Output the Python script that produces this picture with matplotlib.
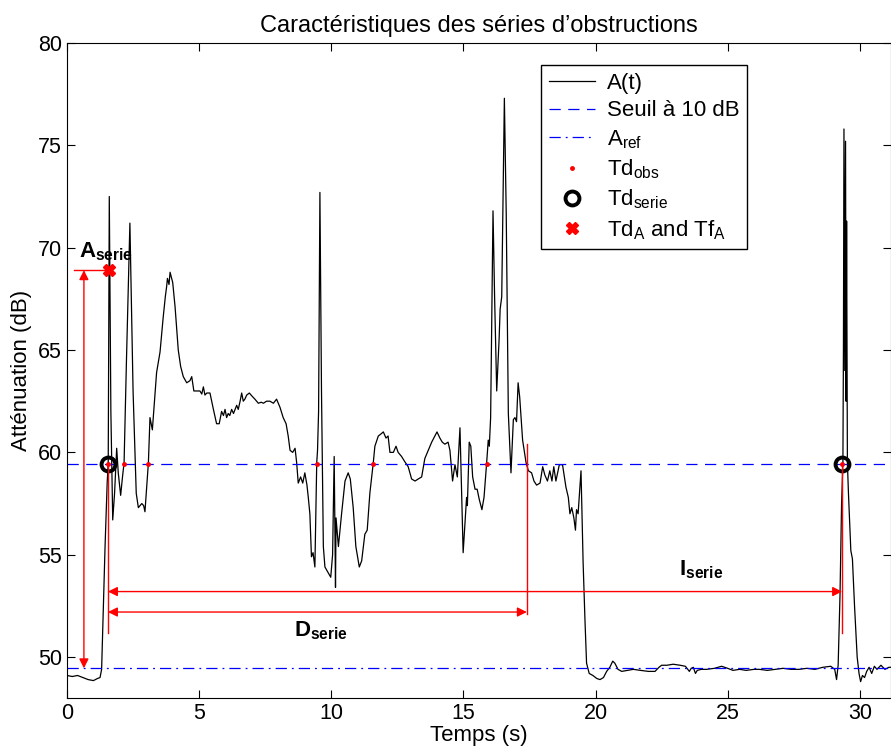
import matplotlib
matplotlib.use("Agg")
import matplotlib.pyplot as plt

plt.rcParams['font.family'] = ['Liberation Sans', 'DejaVu Sans']
plt.rcParams['mathtext.default'] = 'regular'

# Attenuation signal A(t)
t = [0.0, 0.2, 0.4, 0.6, 0.8, 1.0, 1.15, 1.25, 1.31, 1.40, 1.44, 1.52, 1.56, 1.60, 1.66, 1.73, 1.80,
     1.88, 1.94, 2.03, 2.10, 2.16, 2.25, 2.38, 2.50, 2.62, 2.70, 2.83, 2.90, 2.95, 3.08, 3.14, 3.23,
     3.39, 3.52, 3.64, 3.72, 3.77, 3.80, 3.86, 3.90, 4.00, 4.09, 4.21, 4.30, 4.40, 4.53, 4.65, 4.72,
     4.80, 4.92, 5.03, 5.10, 5.16, 5.22, 5.29, 5.41, 5.54, 5.66, 5.76, 5.85, 5.92, 5.98, 6.04, 6.10,
     6.16, 6.23, 6.30, 6.42, 6.48, 6.55, 6.61, 6.67, 6.73, 6.80, 6.90, 7.00, 7.11, 7.24, 7.35, 7.43,
     7.55, 7.68, 7.81, 7.93, 8.06, 8.18, 8.29, 8.37, 8.44, 8.54, 8.63, 8.69, 8.75, 8.84, 8.92, 9.00,
     9.08, 9.13, 9.19, 9.25, 9.31, 9.38, 9.45, 9.48, 9.52, 9.57, 9.63, 9.70, 9.76, 9.89, 9.98, 10.05,
     10.11, 10.14, 10.16, 10.18, 10.27, 10.39, 10.52, 10.64, 10.72, 10.83, 10.93, 11.06, 11.15, 11.27,
     11.36, 11.46, 11.59, 11.65, 11.78, 11.88, 11.97, 12.07, 12.15, 12.22, 12.35, 12.45, 12.53, 12.66,
     12.78, 12.91, 13.04, 13.17, 13.29, 13.42, 13.54, 13.67, 13.80, 13.92, 14.00, 14.11, 14.20, 14.30,
     14.42, 14.49, 14.59, 14.68, 14.77, 14.87, 14.99, 15.12, 15.15, 15.22, 15.28, 15.35, 15.44, 15.52,
     15.60, 15.70, 15.78, 15.88, 15.94, 15.98, 16.03, 16.12, 16.18, 16.26, 16.35, 16.39, 16.45, 16.55,
     16.62, 16.70, 16.80, 16.89, 16.95, 17.01, 17.07, 17.13, 17.24, 17.37, 17.46, 17.58, 17.67, 17.77,
     17.90, 18.00, 18.08, 18.18, 18.27, 18.35, 18.42, 18.50, 18.63, 18.75, 18.88, 18.97, 19.03, 19.10,
     19.18, 19.24, 19.28, 19.34, 19.45, 19.53, 19.60, 19.66, 19.76, 19.90, 20.05, 20.17, 20.30, 20.42,
     20.54, 20.65, 20.73, 20.85, 20.99, 21.2, 21.43, 21.7, 22.0, 22.25, 22.4, 22.5, 22.7, 22.94, 23.2,
     23.4, 23.55, 23.62, 23.7, 23.78, 23.85, 24.0, 24.2, 24.5, 24.77, 25.0, 25.2, 25.45, 25.7, 26.0,
     26.2, 26.5, 26.8, 27.1, 27.4, 27.7, 28.0, 28.3, 28.6, 28.9, 29.05, 29.12, 29.18, 29.25, 29.31,
     29.36, 29.38, 29.40, 29.43, 29.46, 29.48, 29.50, 29.53, 29.57, 29.66, 29.72, 29.80, 29.90, 29.97,
     30.03, 30.10, 30.18, 30.26, 30.35, 30.45, 30.55, 30.65, 30.80, 30.95, 31.1, 31.3]
A = [49.1, 49.05, 49.1, 49.0, 48.9, 48.85, 48.95, 49.0, 49.4, 53.5, 55.4, 58.5, 59.5, 72.5, 62.0, 56.7, 58.0,
     60.2, 59.0, 57.9, 58.8, 59.5, 64.5, 71.2, 63.0, 58.0, 57.3, 57.5, 57.4, 57.1, 59.5, 61.7, 61.1,
     63.9, 64.9, 66.6, 67.6, 68.1, 68.5, 68.2, 68.8, 68.3, 67.1, 65.0, 64.2, 63.7, 63.4, 63.5, 63.7,
     63.0, 63.0, 63.0, 62.85, 63.2, 62.8, 62.9, 62.9, 62.1, 61.4, 61.4, 62.0, 61.8, 62.1, 61.7, 61.9,
     61.8, 62.1, 61.9, 62.3, 62.1, 62.5, 62.9, 62.5, 62.6, 62.8, 62.9, 62.75, 62.6, 62.4, 62.45, 62.4,
     62.5, 62.5, 62.4, 62.6, 62.2, 61.7, 61.4, 60.8, 60.1, 60.0, 60.2, 59.5, 58.5, 58.8, 58.5, 59.0,
     58.4, 57.8, 57.0, 54.9, 55.1, 54.4, 59.5, 60.1, 62.0, 72.7, 63.0, 55.4, 54.4, 54.1, 53.9, 55.0,
     59.8, 56.0, 53.4, 56.8, 55.4, 57.0, 58.6, 59.0, 58.7, 57.3, 55.4, 54.4, 54.7, 56.0,
     56.2, 58.0, 59.5, 60.3, 60.8, 60.9, 61.0, 60.7, 60.8, 60.0, 60.0, 60.3, 60.0, 59.8,
     59.55, 59.3, 58.7, 58.6, 58.7, 58.8, 59.7, 60.1, 60.5, 60.8, 61.0, 60.7, 60.5, 60.4,
     60.5, 60.1, 58.6, 59.4, 58.8, 61.2, 55.1, 57.8, 57.4, 60.5, 60.3, 58.8, 58.2, 58.2,
     57.7, 57.2, 57.8, 59.5, 60.6, 60.3, 61.7, 71.8, 67.6, 63.0, 65.5, 67.0, 67.6, 77.3,
     71.7, 61.9, 59.0, 61.6, 61.7, 61.5, 63.4, 62.7, 60.6, 59.5, 59.1, 59.0, 58.6, 58.4,
     58.5, 59.3, 58.9, 58.6, 59.1, 58.6, 59.3, 58.6, 59.4, 59.4, 58.3, 57.8, 57.0, 57.3,
     56.8, 56.2, 57.2, 57.0, 59.1, 54.6, 51.8, 49.7, 49.2, 49.1, 48.95, 48.9, 49.0, 49.3,
     49.5, 49.8, 49.7, 49.4, 49.3, 49.35, 49.4, 49.35, 49.3, 49.3, 49.5, 49.6, 49.6, 49.65, 49.6,
     49.55, 49.3, 49.45, 49.5, 49.2, 49.35, 49.4, 49.4, 49.45, 49.55, 49.45, 49.35, 49.4, 49.35, 49.4,
     49.4, 49.35, 49.4, 49.45, 49.4, 49.4, 49.45, 49.4, 49.5, 49.55, 49.4, 48.9, 49.6, 53.0, 57.5,
     59.5, 65.0, 75.8, 64.0, 75.2, 62.5, 71.3, 59.5, 58.0, 55.2, 54.8, 52.5, 50.0, 49.2,
     48.8, 49.1, 49.0, 49.3, 49.5, 49.2, 49.55, 49.4, 49.6, 49.4, 49.5, 49.5]

A_ref = 49.45
seuil = A_ref + 10
td_obs = [1.55, 2.16, 3.07, 9.46, 11.58, 15.89, 29.33]
td_serie = [1.55, 29.33]
td_A = [1.6]
A_serie = 68.9
tf_D = 17.40
t_arrow_A = 0.64

fig = plt.figure(figsize=(8.91, 7.53), dpi=100, facecolor='white')
ax = fig.add_axes([67 / 891, 55 / 753, 824 / 891, 655 / 753])

ax.plot(t, A, 'k-', lw=0.9, label='A(t)')
ax.axhline(seuil, color='blue', ls=(0, (9, 6)), lw=0.9, label='Seuil à 10 dB')
ax.axhline(A_ref, color='blue', ls=(0, (9, 4, 1.5, 4)), lw=0.9, label='A$_{ref}$')
ax.plot(td_obs, [seuil] * len(td_obs), 'r.', ms=5, ls='none', label='Td$_{obs}$')
ax.plot(td_serie, [seuil] * len(td_serie), 'o', mfc='none', mec='k', mew=2.8, ms=10, ls='none',
        label='Td$_{serie}$')
ax.plot(td_A, [A_serie], 'X', color='red', ms=8, ls='none', label='Td$_A$ and Tf$_A$')

# annotation arrows
red = dict(arrowstyle='<|-|>', color='red', lw=1.0, shrinkA=0, shrinkB=0, mutation_scale=14)
ax.annotate('', xy=(t_arrow_A, A_serie), xytext=(t_arrow_A, A_ref), arrowprops=red)
ax.plot([0.27, td_A[0]], [A_serie, A_serie], 'r-', lw=1.0)
ax.plot([td_serie[0], td_serie[0]], [seuil, 51.2], 'r-', lw=1.0)
ax.plot([td_serie[1], td_serie[1]], [seuil, 51.2], 'r-', lw=1.0)
ax.plot([tf_D, tf_D], [60.4, 52.1], 'r-', lw=1.0)
ax.annotate('', xy=(td_serie[0], 53.2), xytext=(td_serie[1], 53.2), arrowprops=red)
ax.annotate('', xy=(td_serie[0], 52.2), xytext=(tf_D, 52.2), arrowprops=red)

plt.rcParams['mathtext.bf'] = 'Liberation Sans:bold'
ax.text(0.45, 69.8, 'A$_{serie}$', fontsize=16, fontweight='bold', ha='left', va='center')
ax.text(9.6, 51.3, 'D$_{serie}$', fontsize=16, fontweight='bold', ha='center', va='center')
ax.text(24.0, 54.25, 'I$_{serie}$', fontsize=16, fontweight='bold', ha='center', va='center')

ax.set_xlim(0, 31.18)
ax.set_ylim(48, 80)
ax.set_xticks([0, 5, 10, 15, 20, 25, 30])
ax.set_yticks([50, 55, 60, 65, 70, 75, 80])
ax.tick_params(direction='in', top=True, right=True, labelsize=15.5, length=6)
ax.set_xlabel('Temps (s)', fontsize=16, labelpad=1)
ax.set_ylabel('Atténuation (dB)', fontsize=16, labelpad=4)
ax.set_title('Caractéristiques des séries d’obstructions', fontsize=17, pad=8)

ax.legend(loc='upper left', bbox_to_anchor=(541 / 891, 1 - 65 / 753), bbox_transform=fig.transFigure,
          borderaxespad=0, fontsize=16, fancybox=False, edgecolor='black', framealpha=1,
          borderpad=0.35, labelspacing=0.3, handlelength=2.1, handletextpad=0.5)

plt.savefig('out.png', dpi=100)
